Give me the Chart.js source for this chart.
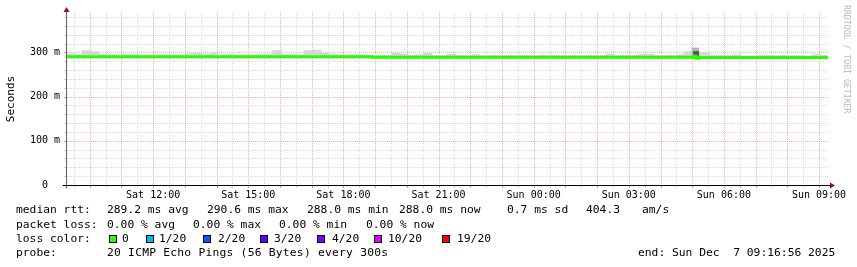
<!DOCTYPE html>
<html>
<head>
<meta charset="utf-8">
<script src="https://cdn.jsdelivr.net/npm/chart.js@4.4.1/dist/chart.umd.min.js"></script>
<style>
  body { margin: 0; background: #fff; }
  #wrap { position: relative; width: 857px; height: 267px; overflow: hidden; }
  #c { position: absolute; left: 0; top: 0; display: block; }
  .lg { position: absolute; font-family: 'DejaVu Sans Mono', monospace; font-size: 11.3px;
        line-height: 14px; white-space: pre; color: #000; }
  .box { position: absolute; width: 6px; height: 6px; border: 1px solid #000; }
  #mark { position: absolute; left: 852px; top: 5px; transform-origin: 0 0; transform: rotate(90deg);
          font-family: 'DejaVu Sans Mono', monospace; font-size: 8.2px; line-height: 10px;
          color: #b8b8b8; white-space: pre; }
</style>
</head>
<body>
<div id="wrap">
  <canvas id="c" width="857" height="267"></canvas>
  <div id="legend"></div>
  <div id="mark">RRDTOOL / TOBI OETIKER</div>
</div>
<script>
// time axis in hours since Sat 00:00
const startHour = 9 + 16 / 60 + 56 / 3600;   // Sat 09:16:56
const endHour = startHour + 24;
const binHours = 0.25;

const xTickHours = [12, 15, 18, 21, 24, 27, 30, 33];
const xTickLabels = ['Sat 12:00', 'Sat 15:00', 'Sat 18:00', 'Sat 21:00',
                     'Sun 00:00', 'Sun 03:00', 'Sun 06:00', 'Sun 09:00'];
const yTickValues = [0, 100, 200, 300];
const yTickLabels = ['0  ', '100 m', '200 m', '300 m'];
const yMax = 389;

// median rtt (ms), each value holds until the next time
const medianTimes  = [startHour, 18.91, 29.07, 29.12, 29.2, endHour];
const medianValues = [290.2, 288.8, 291.5, 286.5, 288.3, 288.3];

// smoke (ms), 15 minute bins from the start
const smokeBase = 287;
const smokeTop = [
  297, 295, 304, 302, 296, 295, 294, 296, 296, 293,
  294, 294, 295, 293, 293, 297, 298, 296, 299, 294,
  296, 293, 294, 294, 295, 296, 304, 295, 295, 294,
  304, 305, 298, 296, 293, 294, 295, 293, 293, 294,
  294, 298, 296, 294, 295, 298, 293, 293, 296, 293,
  293, 295, 293, 293, 293, 293, 293, 294, 293, 293,
  293, 294, 293, 293, 293, 293, 293, 293, 296, 293,
  294, 294, 296, 296, 293, 293, 293, 295, 302, 300,
  298, 294, 294, 294, 295, 292, 292, 294, 294, 293,
  294, 293, 293, 292, 296, 294
];
// the one dense spike near Sun 05:07
const spikeTime = 29.12;
const spikeHigh = [292, 310];
const spikeDense = [292, 302];

// legend rows
const rttStats = [['median rtt:', 16], ['289.2 ms avg', 107], ['290.6 ms max', 207],
                  ['288.0 ms min', 307], ['288.0 ms now', 399], ['0.7 ms sd', 507],
                  ['404.3', 586], ['am/s', 642]];
const lossStats = [['packet loss:', 16], ['0.00 % avg', 107], ['0.00 % max', 193],
                   ['0.00 % min', 279], ['0.00 % now', 366]];
const lossLabels = ['0', '1/20', '2/20', '3/20', '4/20', '10/20', '19/20'];
const lossColors = ['#26ff00', '#00b8ff', '#0059ff', '#5e00ff', '#7e00ff', '#dd00ff', '#ff0000'];
const lossBoxX = [109, 146, 203, 260, 317, 374, 442];
const lossTextX = [122, 159, 218, 274, 332, 388, 457];
const probeText = '20 ICMP Echo Pings (56 Bytes) every 300s';
const endText = 'end: Sun Dec  7 09:16:56 2025';

const smokeData = smokeTop.map((t, i) => ({ x: startHour + (i + 0.5) * binHours, y: [smokeBase, t] }));
const medianData = medianTimes.map((t, i) => ({ x: t, y: medianValues[i] }));

const monoFont = "'DejaVu Sans Mono', monospace";
const majorGrid = 'rgba(235,140,140,0.7)';
const minorGrid = 'rgba(200,200,200,0.65)';

// grid positions: every 30 min across, every 20 ms up
function gridHours() {
  const t = [];
  for (let h = Math.ceil(startHour * 2) / 2; h <= endHour; h += 0.5) t.push(h);
  return t;
}
function gridMs() {
  const t = [];
  for (let v = 20; v <= yMax; v += 20) t.push(v);
  return t;
}

// dotted rrd grid, axes and arrows
const rrdFrame = {
  id: 'rrdFrame',
  beforeDatasetsDraw(chart) {
    const { ctx, chartArea: a, scales: { x, y } } = chart;
    ctx.save();
    ctx.lineWidth = 1;
    ctx.setLineDash([1, 1]);
    gridMs().forEach(v => {
      const py = Math.round(y.getPixelForValue(v)) + 0.5;
      ctx.strokeStyle = v % 100 === 0 ? majorGrid : minorGrid;
      ctx.beginPath(); ctx.moveTo(a.left, py); ctx.lineTo(a.right + 1, py); ctx.stroke();
    });
    gridHours().forEach(h => {
      const px = Math.round(x.getPixelForValue(h)) + 0.5;
      ctx.strokeStyle = Number.isInteger(h) ? majorGrid : minorGrid;
      ctx.beginPath(); ctx.moveTo(px, a.top); ctx.lineTo(px, a.bottom); ctx.stroke();
    });
    ctx.restore();
  },
  afterDatasetsDraw(chart) {
    const { ctx, chartArea: a, scales: { x, y } } = chart;
    ctx.save();
    ctx.lineWidth = 1;
    // small ticks under the x axis and left of the y axis
    gridHours().forEach(h => {
      const px = Math.round(x.getPixelForValue(h)) + 0.5;
      ctx.strokeStyle = Number.isInteger(h) ? '#e89090' : '#d0d0d0';
      ctx.beginPath(); ctx.moveTo(px, a.bottom + 1); ctx.lineTo(px, a.bottom + 3); ctx.stroke();
    });
    gridMs().forEach(v => {
      const py = Math.round(y.getPixelForValue(v)) + 0.5;
      ctx.strokeStyle = v % 100 === 0 ? '#e89090' : '#d0d0d0';
      ctx.beginPath(); ctx.moveTo(a.left - 3, py); ctx.lineTo(a.left - 1, py); ctx.stroke();
    });
    const ax = Math.round(a.left) - 0.5;
    const ay = Math.round(a.bottom) + 0.5;
    ctx.strokeStyle = '#606060';
    ctx.beginPath(); ctx.moveTo(ax, a.top - 3); ctx.lineTo(ax, ay + 3); ctx.stroke();
    ctx.strokeStyle = '#000';
    ctx.beginPath(); ctx.moveTo(ax - 4, ay); ctx.lineTo(a.right + 2, ay); ctx.stroke();
    ctx.fillStyle = '#9a1010';
    ctx.beginPath();
    ctx.moveTo(ax, a.top - 6); ctx.lineTo(ax - 3, a.top - 1); ctx.lineTo(ax + 3, a.top - 1);
    ctx.closePath(); ctx.fill();
    ctx.beginPath();
    ctx.moveTo(a.right + 7, ay); ctx.lineTo(a.right + 2, ay - 3); ctx.lineTo(a.right + 2, ay + 3);
    ctx.closePath(); ctx.fill();
    ctx.restore();
  }
};

new Chart(document.getElementById('c'), {
  data: {
    datasets: [
      {
        type: 'line', data: medianData, stepped: true, borderColor: '#26ff00',
        borderWidth: 3, pointRadius: 0, order: 0
      },
      {
        type: 'bar', data: [{ x: spikeTime, y: spikeDense }], backgroundColor: '#505050',
        barThickness: 5, grouped: false, order: 1
      },
      {
        type: 'bar', data: [{ x: spikeTime - 0.02, y: spikeHigh }], backgroundColor: '#b4b4b4',
        barThickness: 7, grouped: false, order: 2
      },
      {
        type: 'bar', data: smokeData, backgroundColor: '#d6d6d6',
        barThickness: 9, grouped: false, order: 3
      }
    ]
  },
  options: {
    responsive: false,
    devicePixelRatio: 1,
    animation: false,
    layout: { padding: { top: 13, right: 29, bottom: 0, left: 0 } },
    plugins: { legend: { display: false }, tooltip: { enabled: false } },
    scales: {
      x: {
        type: 'linear', min: startHour, max: endHour, offset: false,
        grid: { display: false, drawTicks: false }, border: { display: false },
        afterBuildTicks: (s) => { s.ticks = xTickHours.map(v => ({ value: v })); },
        afterFit: (s) => { s.height = 82; },
        ticks: {
          autoSkip: false, maxRotation: 0, minRotation: 0, padding: 4.5, color: '#000',
          font: { family: monoFont, size: 10 },
          callback: (v) => { const k = xTickHours.indexOf(v); return k >= 0 ? xTickLabels[k] : null; }
        }
      },
      y: {
        type: 'linear', min: 0, max: yMax,
        grid: { display: false, drawTicks: false }, border: { display: false },
        afterBuildTicks: (s) => { s.ticks = yTickValues.map(v => ({ value: v })); },
        afterFit: (s) => { s.width = 67; },
        title: {
          display: true, text: 'Seconds', color: '#000',
          font: { family: monoFont, size: 11 }, padding: { top: 4.4, bottom: 0 }
        },
        ticks: {
          padding: 7, color: '#000', font: { family: monoFont, size: 10 },
          callback: (v) => { const k = yTickValues.indexOf(v); return k >= 0 ? yTickLabels[k] : null; }
        }
      }
    }
  },
  plugins: [rrdFrame]
});

// legend text under the graph
const legend = document.getElementById('legend');
function put(text, left, top, extra) {
  const s = document.createElement('span');
  s.className = 'lg';
  s.textContent = text;
  s.style.left = left + 'px';
  s.style.top = top + 'px';
  if (extra) s.style.letterSpacing = extra;
  legend.appendChild(s);
}
rttStats.forEach(([t, x]) => put(t, x, 203.4));
lossStats.forEach(([t, x]) => put(t, x, 217.6));
put('loss color:', 16, 231.6);
lossLabels.forEach((t, i) => {
  const b = document.createElement('div');
  b.className = 'box';
  b.style.left = lossBoxX[i] + 'px';
  b.style.top = '235px';
  b.style.background = lossColors[i];
  legend.appendChild(b);
  put(t, lossTextX[i], 231.6);
});
put('probe:', 16, 245.8);
put(probeText, 107, 245.8, '0.23px');
put(endText, 638, 245.8);
</script>
</body>
</html>
